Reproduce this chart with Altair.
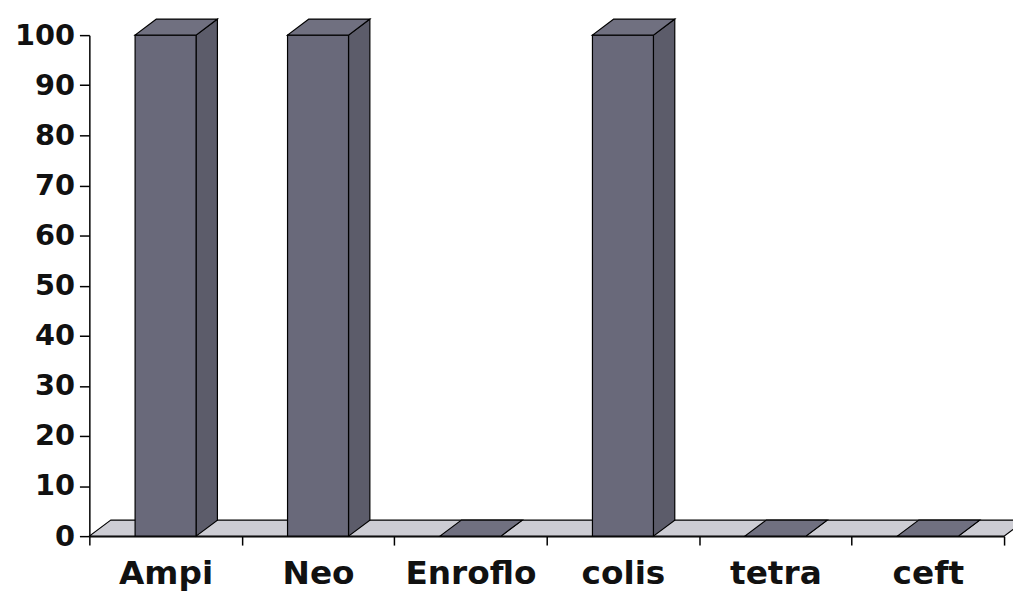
import altair as alt
import pandas as pd

# ---- data ----
categories = ["Ampi", "Neo", "Enroflo", "colis", "tetra", "ceft"]
values = [100, 100, 0, 100, 0, 0]
y_ticks = list(range(0, 101, 10))

# ---- style constants (3-D look) ----
BAR_W = 0.40      # bar width as a fraction of a category slot
DX = 0.14         # depth offset along x, in category units
DY = 3.2          # depth offset along y, in value units
W, H = 922, 505
FONT = "DejaVu Sans"

n = len(categories)
front_rows, side_rows, top_rows = [], [], []
for i, (c, v) in enumerate(zip(categories, values)):
    xl = i + 0.5 - BAR_W / 2
    xr = i + 0.5 + BAR_W / 2
    front_rows.append({"cat": c, "x": xl, "x2": xr, "y": 0, "y2": v})
    side_rows += [
        {"cat": c, "x": xr, "lo": 0, "hi": v},
        {"cat": c, "x": xr + DX, "lo": DY, "hi": v + DY},
    ]
    top_rows += [
        {"cat": c, "y": v, "xa": xl, "xb": xr},
        {"cat": c, "y": v + DY, "xa": xl + DX, "xb": xr + DX},
    ]
floor_rows = [{"y": 0, "xa": 0, "xb": n}, {"y": DY, "xa": DX, "xb": n + DX}]

x_scale = alt.Scale(domain=[0, n], nice=False, zero=False)
y_scale = alt.Scale(domain=[0, 100], nice=False)

label_list = "[" + ",".join("'" + c + "'" for c in categories) + "]"
x_axis = alt.Axis(
    values=[k / 2 for k in range(2 * n + 1)],
    labelExpr="datum.value % 1 != 0 ? " + label_list + "[floor(datum.value)] : ''",
    tickOpacity={"condition": {"test": "datum.value % 1 != 0", "value": 0}, "value": 1},
    tickSize=9, tickWidth=1.5, tickColor="black",
    domainColor="black", domainWidth=1.5,
    labelFont=FONT, labelFontWeight="bold", labelFontSize=33, labelColor="#111111",
    labelPadding=13, labelOverlap=False, labelFlush=False, labelBound=False,
    title=None, grid=False,
)
y_axis = alt.Axis(
    values=y_ticks,
    tickSize=10, tickWidth=1.5, tickColor="black",
    domainColor="black", domainWidth=1.5,
    labelFont=FONT, labelFontWeight="bold", labelFontSize=29, labelColor="#111111",
    labelPadding=5, labelOverlap=False, labelFlush=False,
    title=None, grid=False,
)

floor = alt.Chart(pd.DataFrame(floor_rows)).mark_area(
    orient="horizontal", fill="#cdcdd4", stroke="black", strokeWidth=1.2
).encode(
    y=alt.Y("y:Q", scale=y_scale, axis=y_axis),
    x=alt.X("xa:Q", scale=x_scale, axis=x_axis),
    x2="xb:Q",
)

side = alt.Chart(pd.DataFrame(side_rows)).mark_area(
    orient="vertical", fill="#5c5c6a", stroke="black", strokeWidth=1.2
).encode(
    x=alt.X("x:Q", scale=x_scale, axis=x_axis),
    y=alt.Y("hi:Q", scale=y_scale, axis=y_axis),
    y2="lo:Q",
    detail="cat:N",
)

front = alt.Chart(pd.DataFrame(front_rows)).mark_rect(
    fill="#69697a", stroke="black", strokeWidth=1.2
).encode(
    x=alt.X("x:Q", scale=x_scale, axis=x_axis),
    x2="x2:Q",
    y=alt.Y("y:Q", scale=y_scale, axis=y_axis),
    y2="y2:Q",
)

top = alt.Chart(pd.DataFrame(top_rows)).mark_area(
    orient="horizontal", fill="#707080", stroke="black", strokeWidth=1.2
).encode(
    y=alt.Y("y:Q", scale=y_scale, axis=y_axis),
    x=alt.X("xa:Q", scale=x_scale, axis=x_axis),
    x2="xb:Q",
    detail="cat:N",
)

chart = alt.layer(floor, side, front, top).properties(
    width=W, height=H,
    autosize=alt.AutoSizeParams(type="none"),
    padding={"left": 82, "top": 25, "right": 9, "bottom": 60},
    background="white",
).configure_view(stroke=None)

chart.save("out.html", embed_options={"renderer": "svg", "actions": False})
